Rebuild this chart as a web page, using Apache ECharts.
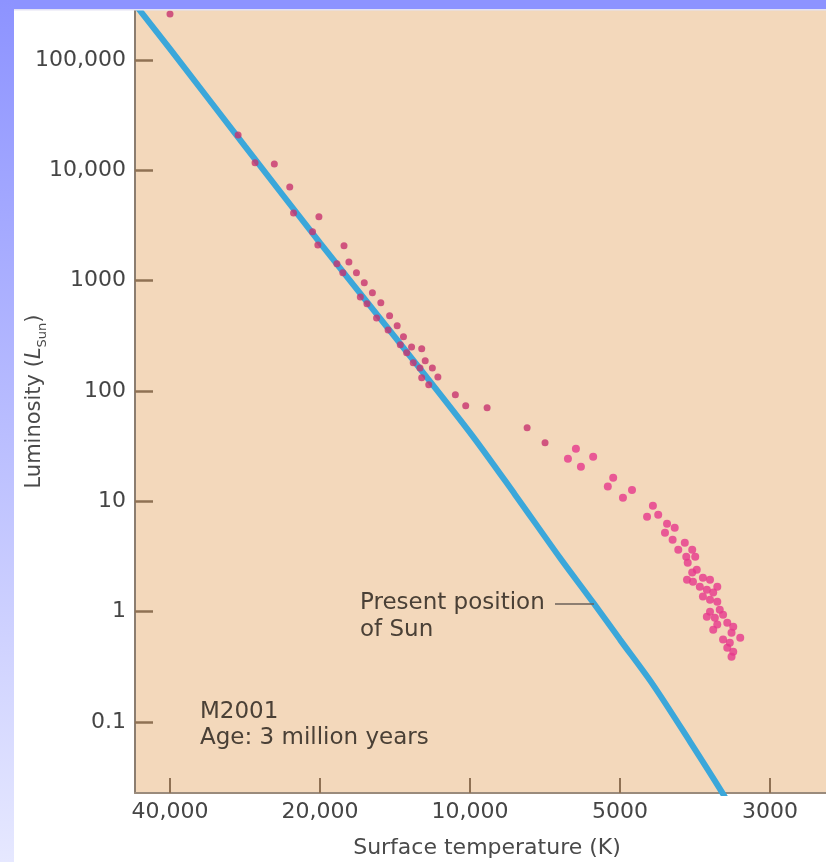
<!DOCTYPE html>
<html>
<head>
<meta charset="utf-8">
<script src="https://cdn.jsdelivr.net/npm/echarts@6/dist/echarts.min.js"></script>
<style>
  html, body { margin: 0; padding: 0; background: #ffffff; }
  #container { width: 826px; height: 862px; }
</style>
</head>
<body>
<div id="container"></div>
<script>
// tick values and labels
var xTicks = [40000, 20000, 10000, 5000, 3000];
var xLabels = ['40,000', '20,000', '10,000', '5000', '3000'];
var yTicks = [0.1, 1, 10, 100, 1000, 10000, 100000];
var yLabels = ['0.1', '1', '10', '100', '1000', '10,000', '100,000'];

// main sequence track (temperature K, luminosity L_sun)
var trackTemp = [48100, 40000, 28300, 20000, 14100, 10000, 8120, 6600, 5660, 5000, 4470, 3940, 3530, 3380];
var trackLum = [365000, 126000, 16600, 2200, 303, 42, 11.5, 3.08, 1.21, 0.558, 0.218, 0.0664, 0.0229, 0.0145];

// hot stars, already on the main sequence
var hotTemp = [40000, 29200, 27000, 24700, 23000, 22600, 20100, 20700, 20200, 17900,
  18500, 17500, 18000, 16900, 16300, 16600, 15700, 16100, 15100, 15400,
  14500, 14600, 14000, 13600, 13800, 13100, 13400, 12500, 13000, 12300,
  12600, 11900, 11600, 12500, 12100, 10700, 10200, 9240, 7680, 7070];
var hotLum = [261000, 20900, 11700, 11400, 7080, 4110, 3790, 2770, 2110, 2070,
  1420, 1480, 1180, 1180, 955, 713, 776, 617, 630, 460,
  480, 358, 390, 310, 262, 251, 222, 241, 180, 188,
  162, 162, 134, 132, 114, 92.4, 73.5, 70.5, 46.4, 34.0];

// cool stars, still contracting
var coolTemp = [6130, 6360, 5660, 5990, 5160, 5290, 4800, 4950, 4470, 4560,
  4390, 4260, 4150, 4290, 4180, 4010, 4100, 3910, 3990, 3870,
  3970, 3850, 3910, 3980, 3900, 3770, 3680, 3590, 3810, 3720,
  3640, 3770, 3680, 3590, 3560, 3680, 3720, 3620, 3520, 3470,
  3590, 3400, 3320, 3640, 3420, 3520, 3440, 3470, 3400, 3420];
var coolLum = [29.9, 24.3, 25.4, 20.6, 16.4, 13.6, 12.7, 10.8, 9.12, 7.25,
  7.56, 6.27, 5.77, 5.19, 4.49, 4.22, 3.64, 3.64, 3.15, 3.15,
  2.78, 2.40, 2.26, 1.95, 1.87, 2.03, 1.95, 1.68, 1.68, 1.58,
  1.49, 1.37, 1.28, 1.23, 1.04, 1.00, 0.90, 0.88, 0.94, 0.795,
  0.763, 0.731, 0.581, 0.687, 0.645, 0.558, 0.524, 0.472, 0.434, 0.391];

// the printed temperature axis has evenly spaced ticks, log between each pair
function tempToAxis(t) {
    var i = 0;
    while (i < xTicks.length - 2 && t < xTicks[i + 1]) i++;
    return i + Math.log(xTicks[i] / t) / Math.log(xTicks[i] / xTicks[i + 1]);
}
function pairs(ts, ls) {
    return ts.map(function (t, i) { return [tempToAxis(t), ls[i]]; });
}

var FONT = '"DejaVu Sans", sans-serif';
var dom = document.getElementById('container');
var myChart = echarts.init(dom);

var option = {
    backgroundColor: '#ffffff',
    animation: false,
    grid: {
        left: 135, right: 0, top: 10, bottom: 69,
        outerBoundsMode: 'none',
        containLabel: false,
        show: true, backgroundColor: '#f3d8bb', borderWidth: 0
    },
    xAxis: {
        type: 'value',
        min: -0.2333, max: 4.3733,
        name: 'Surface temperature (K)',
        nameLocation: 'middle',
        nameGap: 44,
        nameMoveOverlap: false,
        nameTextStyle: { fontFamily: FONT, fontSize: 22, color: '#4a4a4a', padding: [0, 0, 0, 13] },
        splitLine: { show: false },
        axisLine: { onZero: false, lineStyle: { color: '#9a8b7c', width: 2 } },
        axisTick: { inside: true, length: 15, customValues: [0, 1, 2, 3, 4], lineStyle: { color: '#8f7154', width: 2 } },
        axisLabel: {
            customValues: [0, 1, 2, 3, 4],
            margin: 8,
            fontFamily: FONT, fontSize: 22, color: '#454545',
            formatter: function (v) {
                var i = Math.round(v);
                return Math.abs(v - i) < 1e-6 && xLabels[i] ? xLabels[i] : '';
            }
        }
    },
    yAxis: {
        type: 'log',
        logBase: 10,
        min: 0.02272, max: 283950,
        name: '{t|Luminosity (}{it|L}{sub|Sun}{t|)}',
        nameLocation: 'middle',
        nameGap: 90,
        nameMoveOverlap: false,
        nameTextStyle: {
            fontFamily: FONT, fontSize: 21, color: '#4a4a4a', padding: [0, 0, 0, 0],
            rich: {
                t: { fontFamily: FONT, fontSize: 21, color: '#4a4a4a', lineHeight: 26, verticalAlign: 'bottom' },
                it: { fontFamily: FONT, fontSize: 21, color: '#4a4a4a', fontStyle: 'italic', lineHeight: 26, verticalAlign: 'bottom' },
                sub: { fontFamily: FONT, fontSize: 13, color: '#4a4a4a', lineHeight: 26, verticalAlign: 'bottom', padding: [0, 0, -4, 0] }
            }
        },
        splitLine: { show: false },
        axisLine: { show: true, onZero: false, lineStyle: { color: '#8b7d70', width: 2 } },
        axisTick: { inside: true, length: 18, customValues: yTicks, lineStyle: { color: '#8f7154', width: 2.5 } },
        axisLabel: {
            customValues: yTicks,
            margin: 9,
            fontFamily: FONT, fontSize: 22, color: '#454545',
            formatter: function (v) {
                for (var i = 0; i < yTicks.length; i++) {
                    if (Math.abs(Math.log10(v) - Math.log10(yTicks[i])) < 0.01) return yLabels[i];
                }
                return '';
            }
        }
    },
    series: [
        {
            name: 'Main sequence',
            type: 'line',
            data: pairs(trackTemp, trackLum),
            smooth: 0.3,
            showSymbol: false,
            clip: true,
            z: 2,
            lineStyle: { color: '#3ba7da', width: 6 }
        },
        {
            name: 'Hot stars',
            type: 'scatter',
            data: pairs(hotTemp, hotLum),
            symbolSize: 7,
            z: 3,
            itemStyle: { color: '#c7336f' }
        },
        {
            name: 'Cool stars',
            type: 'scatter',
            data: pairs(coolTemp, coolLum),
            symbolSize: 8,
            z: 3,
            itemStyle: { color: '#e6388c' }
        }
    ],
    graphic: [
        { type: 'rect', z: 100, shape: { x: 0, y: 0, width: 826, height: 9 }, style: { fill: '#8d93ff' } },
        { type: 'rect', z: 100, shape: { x: 0, y: 9, width: 826, height: 1.5 }, style: { fill: '#e4e2f4' } },
        {
            type: 'rect', z: 100, shape: { x: 0, y: 0, width: 14, height: 862 },
            style: { fill: new echarts.graphic.LinearGradient(0, 0, 0, 1, [
                { offset: 0, color: '#8d93ff' }, { offset: 1, color: '#e6e8ff' }
            ]) }
        },
        { type: 'line', z: 50, shape: { x1: 555, y1: 604, x2: 594, y2: 604 }, style: { stroke: '#6b6058', lineWidth: 1.5 } },
        { type: 'text', z: 50, left: 360, top: 590, style: { text: 'Present position\nof Sun', font: '23px ' + FONT, fill: '#4a4036', lineHeight: 27 } },
        { type: 'text', z: 50, left: 200, top: 699, style: { text: 'M2001\nAge: 3 million years', font: '23px ' + FONT, fill: '#4a4036', lineHeight: 26 } }
    ]
};

if (option && typeof option === 'object') {
    myChart.setOption(option, true);
}
</script>
</body>
</html>
